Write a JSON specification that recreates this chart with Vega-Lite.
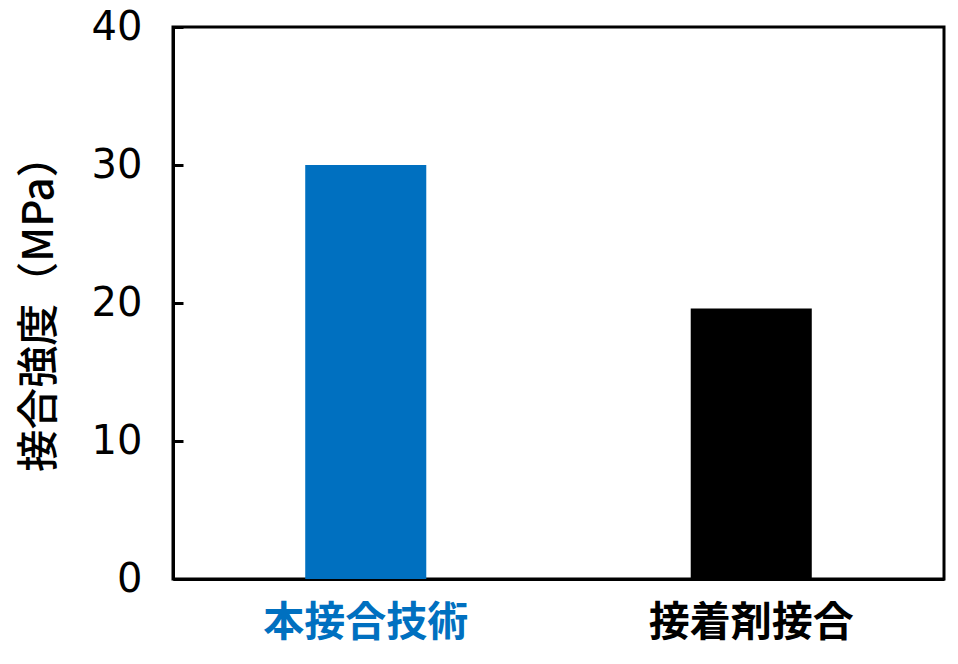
{
  "$schema": "https://vega.github.io/schema/vega-lite/v6.json",
  "width": 771,
  "height": 552,
  "autosize": "none",
  "padding": {"left": 173, "top": 27, "right": 14, "bottom": 85},
  "background": "white",
  "config": {
    "view": {"stroke": "black", "strokeWidth": 3},
    "font": "Noto Sans CJK JP"
  },
  "data": {
    "values": [
      {"method": "本接合技術", "strength": 30.0},
      {"method": "接着剤接合", "strength": 19.6}
    ]
  },
  "mark": {"type": "bar"},
  "encoding": {
    "x": {
      "field": "method",
      "type": "nominal",
      "sort": null,
      "scale": {"paddingInner": 0.686, "paddingOuter": 0.343},
      "axis": {
        "title": null,
        "labelAngle": 0,
        "labelLimit": 0,
        "labelFont": "Noto Sans CJK JP",
        "labelFontSize": 41,
        "labelFontWeight": "bold",
        "labelColor": {"expr": "datum.value == '本接合技術' ? '#0070C0' : 'black'"},
        "labelPadding": 24,
        "ticks": false,
        "domainColor": "black",
        "domainWidth": 3
      }
    },
    "y": {
      "field": "strength",
      "type": "quantitative",
      "scale": {"domain": [0, 40]},
      "axis": {
        "title": "接合強度（MPa）",
        "titleFont": "Noto Sans CJK JP",
        "titleFontSize": 42,
        "titleFontWeight": 500,
        "titleColor": "black",
        "titlePadding": 30,
        "values": [0, 10, 20, 30, 40],
        "grid": false,
        "tickSize": -10,
        "tickWidth": 3,
        "tickColor": "black",
        "domainColor": "black",
        "domainWidth": 3,
        "labelFont": "DejaVu Sans",
        "labelFontSize": 40,
        "labelColor": "black",
        "labelPadding": 41
      }
    },
    "color": {
      "field": "method",
      "type": "nominal",
      "scale": {"domain": ["本接合技術", "接着剤接合"], "range": ["#0070C0", "#000000"]},
      "legend": null
    }
  }
}
